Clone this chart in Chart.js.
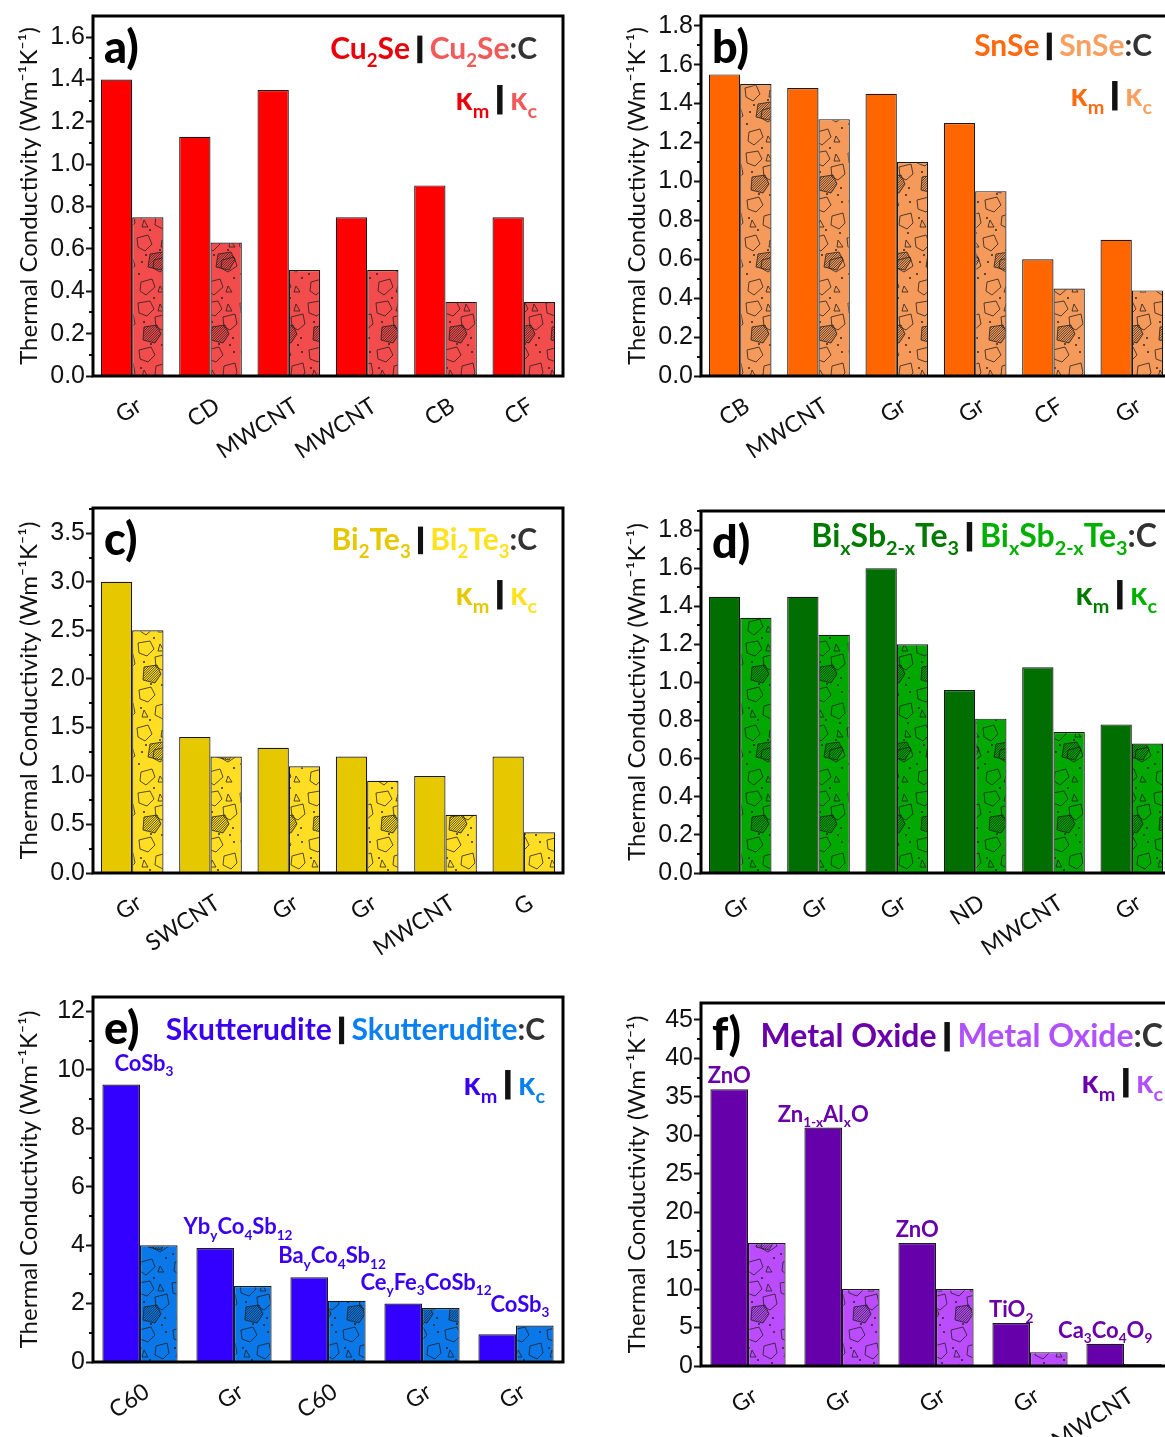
<!DOCTYPE html>
<html>
<head>
<meta charset="utf-8">
<script src="https://cdn.jsdelivr.net/npm/chart.js@4.4.1/dist/chart.umd.min.js"></script>
<style>
html, body { margin: 0; padding: 0; background: #fff; overflow: hidden; }
#page { position: relative; width: 1165px; height: 1437px; overflow: hidden; background: #fff; }
canvas { position: absolute; }
</style>
</head>
<body>
<div id="page">
  <canvas id="chartA" width="580" height="470" style="left:0;top:0"></canvas>
  <canvas id="chartB" width="580" height="470" style="left:608px;top:0"></canvas>
  <canvas id="chartC" width="580" height="470" style="left:0;top:490px"></canvas>
  <canvas id="chartD" width="580" height="470" style="left:608px;top:490px"></canvas>
  <canvas id="chartE" width="580" height="457" style="left:0;top:980px"></canvas>
  <canvas id="chartF" width="580" height="457" style="left:608px;top:980px"></canvas>
</div>
<script>
// ====== DATOS ======
const labelsA = ["Gr", "CD", "MWCNT", "MWCNT", "CB", "CF"];
const kmA = [1.40, 1.13, 1.35, 0.75, 0.90, 0.75];
const kcA = [0.75, 0.63, 0.50, 0.50, 0.35, 0.35];
const ticksA = [0, 0.2, 0.4, 0.6, 0.8, 1.0, 1.2, 1.4, 1.6];

const labelsB = ["CB", "MWCNT", "Gr", "Gr", "CF", "Gr"];
const kmB = [1.55, 1.48, 1.45, 1.30, 0.60, 0.70];
const kcB = [1.50, 1.32, 1.10, 0.95, 0.45, 0.44];
const ticksB = [0, 0.2, 0.4, 0.6, 0.8, 1.0, 1.2, 1.4, 1.6, 1.8];

const labelsC = ["Gr", "SWCNT", "Gr", "Gr", "MWCNT", "G"];
const kmC = [3.00, 1.40, 1.29, 1.20, 1.00, 1.20];
const kcC = [2.50, 1.20, 1.10, 0.95, 0.60, 0.42];
const ticksC = [0, 0.5, 1.0, 1.5, 2.0, 2.5, 3.0, 3.5];

const labelsD = ["Gr", "Gr", "Gr", "ND", "MWCNT", "Gr"];
const kmD = [1.45, 1.45, 1.60, 0.96, 1.08, 0.78];
const kcD = [1.34, 1.25, 1.20, 0.81, 0.74, 0.68];
const ticksD = [0, 0.2, 0.4, 0.6, 0.8, 1.0, 1.2, 1.4, 1.6, 1.8];

const labelsE = ["C60", "Gr", "C60", "Gr", "Gr"];
const kmE = [9.5, 3.9, 2.9, 2.0, 0.95];
const kcE = [4.0, 2.6, 2.1, 1.85, 1.25];
const ticksE = [0, 2, 4, 6, 8, 10, 12];
const matrixE = ["CoSb_{3}", "Yb_{y}Co_{4}Sb_{12}", "Ba_{y}Co_{4}Sb_{12}", "Ce_{y}Fe_{3}CoSb_{12}", "CoSb_{3}"];

const labelsF = ["Gr", "Gr", "Gr", "Gr", "MWCNT"];
const kmF = [36, 31, 16, 5.6, 2.9];
const kcF = [16, 10, 10, 1.8, 0.25];
const ticksF = [0, 5, 10, 15, 20, 25, 30, 35, 40, 45];
const matrixF = ["ZnO", "Zn_{1-x}Al_{x}O", "ZnO", "TiO_{2}", "Ca_{3}Co_{4}O_{9}"];

const FONT = "Lato, 'DejaVu Sans', sans-serif";
const AXIS_W = 93;
const AREA_W = 470;

// ====== TEXTO CON SUBÍNDICES ======
function parseRich(str) {
    const out = [];
    const re = /([_^])\{([^}]*)\}|(\|)|([^_^|]+)/g;
    let m;
    while ((m = re.exec(str))) {
        if (m[3]) out.push({ t: "|", m: 0, bar: true });
        else if (m[4]) out.push({ t: m[4], m: 0 });
        else out.push({ t: m[2], m: m[1] === "_" ? 1 : -1 });
    }
    return out;
}

function drawRich(ctx, parts, x, y, align, size, weight, measureOnly) {
    const segs = [];
    parts.forEach(([str, color]) => parseRich(str).forEach(s => segs.push({ ...s, color })));
    let total = 0;
    segs.forEach(s => {
        s.size = s.m ? size * 0.62 : size;
        ctx.font = `${weight} ${s.size}px ${FONT}`;
        s.w = s.bar ? size * 0.17 : ctx.measureText(s.t).width;
        total += s.w;
    });
    if (measureOnly) return total;
    let cx = align === "right" ? x - total : align === "center" ? x - total / 2 : x;
    ctx.textAlign = "left";
    ctx.textBaseline = "alphabetic";
    segs.forEach(s => {
        ctx.fillStyle = s.color;
        if (s.bar) {
            ctx.fillRect(cx, y - size * 0.78, s.w, size * 0.92);
        } else {
            ctx.font = `${weight} ${s.size}px ${FONT}`;
            const dy = s.m === 1 ? size * 0.26 : s.m === -1 ? -size * 0.4 : 0;
            ctx.fillText(s.t, cx, y + dy);
        }
        cx += s.w;
    });
    return total;
}

// ====== TEXTURA DE LAS BARRAS DE COMPOSITE ======
function strokePoly(g, p) {
    g.beginPath();
    p.forEach(([x, y], i) => i ? g.lineTo(x, y) : g.moveTo(x, y));
    g.closePath();
    g.stroke();
}

function hatchPoly(g, p) {
    g.save();
    strokePoly(g, p);
    g.clip();
    g.beginPath();
    const y0 = Math.min(...p.map(q => q[1])) - 2, y1 = Math.max(...p.map(q => q[1])) + 2;
    for (let k = -30; k < 60; k += 2.4) { g.moveTo(k, y1); g.lineTo(k + (y1 - y0), y0); }
    g.stroke();
    g.restore();
}

function makeTexture(color) {
    const c = document.createElement("canvas");
    c.width = 34; c.height = 150;
    const g = c.getContext("2d");
    g.fillStyle = color;
    g.fillRect(0, 0, c.width, c.height);
    g.strokeStyle = "rgba(30,30,30,0.85)";
    g.lineWidth = 0.9;
    [
        [[2, 3], [14, 1], [18, 9], [11, 16], [3, 13]],
        [[19, 17], [31, 14], [33, 24], [26, 30], [20, 27]],
        [[3, 50], [15, 47], [19, 55], [12, 62], [4, 59]],
        [[20, 66], [31, 63], [33, 73], [27, 79], [19, 75]],
        [[1, 88], [12, 85], [16, 94], [9, 101], [2, 97]],
        [[18, 110], [30, 107], [33, 116], [24, 122], [17, 118]],
        [[5, 132], [16, 129], [19, 137], [10, 145], [4, 141]]
    ].forEach(p => strokePoly(g, p));
    [[[24, 4], [28, 11], [22, 11]], [[8, 70], [12, 77], [6, 77]], [[26, 90], [31, 97], [25, 97]], [[24, 136], [28, 142], [22, 142]]]
        .forEach(p => strokePoly(g, p));
    g.fillStyle = "rgba(30,30,30,0.9)";
    [[8, 22], [29, 38], [15, 44], [5, 68], [30, 52], [14, 80], [24, 100], [6, 112], [30, 128], [18, 148], [26, 45], [10, 105], [28, 83], [3, 124]]
        .forEach(([x, y]) => { g.beginPath(); g.arc(x, y, 1, 0, 7); g.fill(); });
    hatchPoly(g, [[8, 27], [21, 25], [25, 34], [19, 43], [7, 40]]);
    hatchPoly(g, [[14, 104], [27, 102], [31, 110], [25, 120], [12, 117]]);
    return g.createPattern(c, "repeat");
}

// ====== PLUGIN: MARCO, TICKS MENORES Y TEXTOS ======
const framePlugin = {
    id: "frame",
    afterDraw(chart, args, o) {
        const { ctx, chartArea: a } = chart;
        const y = chart.scales.y;
        ctx.save();
        // ticks menores
        ctx.strokeStyle = "#111";
        ctx.lineWidth = 2;
        const t = o.ticks;
        for (let i = 0; i < t.length; i++) {
            const next = i + 1 < t.length ? t[i + 1] : t[i] + (t[1] - t[0]);
            const mid = (t[i] + next) / 2;
            if (mid > y.max) continue;
            const py = Math.round(y.getPixelForValue(mid));
            ctx.beginPath();
            ctx.moveTo(a.left - 4, py);
            ctx.lineTo(a.left, py);
            ctx.stroke();
        }
        // marco
        ctx.lineWidth = 3;
        ctx.strokeStyle = "#000";
        ctx.strokeRect(a.left, a.top, a.right - a.left, a.bottom - a.top);
        // letra del panel
        ctx.font = `900 45px ${FONT}`;
        ctx.fillStyle = "#000";
        ctx.textAlign = "left";
        ctx.textBaseline = "alphabetic";
        ctx.fillText(o.letter, a.left + 11, a.top + 47);
        // título y leyenda
        const rx = a.right - o.inset;
        drawRich(ctx, [[o.name + " ", o.tm], ["|", "#111"], [" " + o.name, o.tc], [":C", "#333"]], rx, a.top + o.titleY, "right", o.titleSize, "bold");
        drawRich(ctx, [["κ_{m} ", o.tm], ["|", "#111"], [" κ_{c}", o.tc]], rx, a.top + o.kY, "right", 32, "bold");
        // etiquetas de matriz sobre las barras
        if (o.matrix) {
            const m0 = chart.getDatasetMeta(0).data;
            const m1 = chart.getDatasetMeta(1).data;
            o.matrix.forEach((txt, i) => {
                let cx = o.anchor === "group" ? (m0[i].x + m1[i].x) / 2 + 4 : m0[i].x;
                const top = o.anchor === "group" ? Math.min(m0[i].y, m1[i].y) : m0[i].y;
                const w = drawRich(ctx, [[txt, o.tm]], 0, 0, "left", 22, "bold", true);
                cx = Math.max(cx, a.left + 6 + w / 2);
                drawRich(ctx, [[txt, o.tm]], cx, top - o.gap, "center", 22, "bold");
            });
        }
        ctx.restore();
    }
};

// ====== CONSTRUCCIÓN DE LOS PANELES ======
function buildPanel(id, p) {
    const canvas = document.getElementById(id);
    return new Chart(canvas, {
        type: "bar",
        data: {
            labels: p.labels,
            datasets: [
                { data: p.km, backgroundColor: p.cm, borderColor: "#1a1a1a", borderWidth: 1.2 },
                { data: p.kc, backgroundColor: makeTexture(p.cc), borderColor: "#1a1a1a", borderWidth: 1.2 }
            ]
        },
        options: {
            responsive: false,
            animation: false,
            layout: { padding: { top: p.padTop, right: canvas.width - AXIS_W - AREA_W, left: 0, bottom: 0 } },
            datasets: { bar: { categoryPercentage: 0.8, barPercentage: 1.0 } },
            plugins: {
                legend: { display: false },
                tooltip: { enabled: false },
                frame: {
                    ticks: p.ticks, letter: p.letter, name: p.name, tm: p.tm, tc: p.tc,
                    inset: p.inset, titleY: p.titleY, kY: p.kY, titleSize: p.titleSize || 30,
                    matrix: p.matrix, anchor: p.anchor, gap: p.gap || 10
                }
            },
            scales: {
                x: {
                    grid: { display: false },
                    border: { display: false },
                    ticks: {
                        color: "#111", font: { family: FONT, size: 23 },
                        minRotation: 33, maxRotation: 33, autoSkip: false, padding: 8, labelOffset: 7
                    },
                    afterFit: s => { s.height = p.xHeight; }
                },
                y: {
                    min: 0, max: p.ymax,
                    afterBuildTicks: s => { s.ticks = p.ticks.map(v => ({ value: v })); },
                    afterFit: s => { s.width = AXIS_W; },
                    grid: { drawOnChartArea: false, tickLength: 7, tickWidth: 2, tickColor: "#111" },
                    border: { display: false },
                    ticks: {
                        color: "#111", padding: 1,
                        font: { family: "'Liberation Sans', Arial, sans-serif", size: 25 },
                        callback: v => v.toFixed(p.dec)
                    },
                    title: {
                        display: true, text: "Thermal Conductivity (Wm⁻¹K⁻¹)",
                        color: "#111", font: { family: FONT, size: 24 },
                        padding: { top: 15, bottom: 0 }
                    }
                }
            }
        },
        plugins: [framePlugin]
    });
}

document.addEventListener("DOMContentLoaded", () => {
    buildPanel("chartA", { labels: labelsA, km: kmA, kc: kcA, ticks: ticksA, ymax: 1.70, dec: 1,
        cm: "#FF0000", cc: "#F24C4C", tm: "#E8000B", tc: "#F25A5A", letter: "a)", name: "Cu_{2}Se",
        padTop: 12, xHeight: 94, inset: 26, titleY: 43, kY: 94 });
    buildPanel("chartB", { labels: labelsB, km: kmB, kc: kcB, ticks: ticksB, ymax: 1.85, dec: 1,
        cm: "#FF6600", cc: "#F59A5A", tm: "#FF6A10", tc: "#F7A060", letter: "b)", name: "SnSe",
        padTop: 13, xHeight: 94, inset: 19, titleY: 40, kY: 90 });
    buildPanel("chartC", { labels: labelsC, km: kmC, kc: kcC, ticks: ticksC, ymax: 3.76, dec: 1,
        cm: "#E6C800", cc: "#FFDD22", tm: "#E6C800", tc: "#FFE21F", letter: "c)", name: "Bi_{2}Te_{3}",
        padTop: 18, xHeight: 87, inset: 26, titleY: 42, kY: 97 });
    buildPanel("chartD", { labels: labelsD, km: kmD, kc: kcD, ticks: ticksD, ymax: 1.90, dec: 1,
        cm: "#006E00", cc: "#00A800", tm: "#007A00", tc: "#00B000", letter: "d)", name: "Bi_{x}Sb_{2-x}Te_{3}",
        padTop: 21, xHeight: 87, inset: 14, titleY: 36, kY: 94, titleSize: 32 });
    buildPanel("chartE", { labels: labelsE, km: kmE, kc: kcE, ticks: ticksE, ymax: 12.5, dec: 0,
        cm: "#3300FF", cc: "#0A78E8", tm: "#3A00F0", tc: "#0A80F0", letter: "e)", name: "Skutterudite",
        padTop: 17, xHeight: 75, inset: 18, titleY: 43, kY: 98, matrix: matrixE, anchor: "group", gap: 14 });
    buildPanel("chartF", { labels: labelsF, km: kmF, kc: kcF, ticks: ticksF, ymax: 47.2, dec: 0,
        cm: "#6600AA", cc: "#BB4CFF", tm: "#6A00AA", tc: "#B050FF", letter: "f)", name: "Metal Oxide",
        padTop: 23, xHeight: 71, inset: 8, titleY: 44, kY: 90, titleSize: 32, matrix: matrixF, anchor: "bar", gap: 6 });
});
</script>
</body>
</html>
